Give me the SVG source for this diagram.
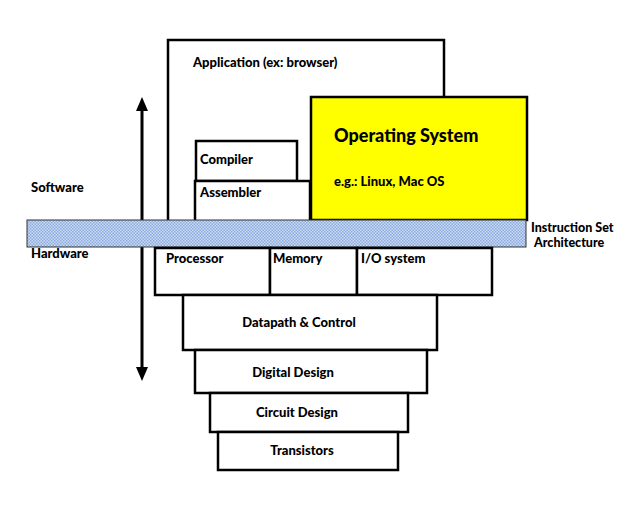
<svg xmlns="http://www.w3.org/2000/svg" width="638" height="507" viewBox="0 0 638 507">
<style>
.box{fill:#fff;stroke:#000;stroke-width:2.5}
.t{font-family:Lato,"Liberation Sans",sans-serif;font-weight:900;font-size:13px;fill:#000}
.c{text-anchor:middle}
.head{fill:#000}
</style>
<defs>
<pattern id="dots" width="3" height="3" patternUnits="userSpaceOnUse">
<rect width="3" height="3" fill="#c8daf4"/>
<rect width="1.5" height="1.5" fill="#8eaade"/>
<rect x="1.5" y="1.5" width="1.5" height="1.5" fill="#8eaade"/>
</pattern>
</defs>
<rect width="638" height="507" fill="#fff"/>
<g id="connectors">
<line x1="142" y1="108" x2="142" y2="369" stroke="#000" stroke-width="3"/>
<polygon class="head" points="142,97 136,111 148,111"/>
<polygon class="head" points="142,381 136,367 148,367"/>
</g>
<g id="application">
<rect class="box" x="168" y="40" width="276" height="185"/>
<text class="t" x="193" y="67">Application (ex: browser)</text>
</g>
<g id="compiler">
<rect class="box" x="196" y="141" width="101" height="40"/>
<text class="t" x="200" y="164">Compiler</text>
</g>
<g id="assembler">
<rect class="box" x="195" y="181" width="115" height="44"/>
<text class="t" x="200" y="197">Assembler</text>
</g>
<g id="os">
<rect x="311" y="97" width="216" height="123" fill="#ffff00" stroke="#000" stroke-width="2.5"/>
<text class="t" x="334" y="142" style="font-size:18px">Operating System</text>
<text class="t" x="334" y="186">e.g.: Linux, Mac OS</text>
</g>
<g id="software-label">
<text class="t" x="31" y="192">Software</text>
</g>
<g id="isa">
<rect x="27" y="220" width="499" height="27" fill="url(#dots)" stroke="#333" stroke-width="1"/>
<text class="t" x="531" y="232" style="font-size:12.5px">Instruction Set</text>
<text class="t" x="534" y="247" style="font-size:12.5px">Architecture</text>
</g>
<g id="hardware-label">
<text class="t" x="31" y="258">Hardware</text>
</g>
<g id="processor">
<rect class="box" x="155" y="248" width="115" height="47"/>
<text class="t" x="166" y="263">Processor</text>
</g>
<g id="memory">
<rect class="box" x="270" y="248" width="87" height="47"/>
<text class="t" x="273" y="263">Memory</text>
</g>
<g id="io">
<rect class="box" x="357" y="248" width="135" height="47"/>
<text class="t" x="361" y="263">I/O system</text>
</g>
<g id="datapath">
<rect class="box" x="183" y="295" width="254" height="55"/>
<text class="t c" x="299" y="327">Datapath &amp; Control</text>
</g>
<g id="digital">
<rect class="box" x="195" y="350" width="232" height="43"/>
<text class="t c" x="293" y="377">Digital Design</text>
</g>
<g id="circuit">
<rect class="box" x="210" y="393" width="198" height="39"/>
<text class="t c" x="297" y="417">Circuit Design</text>
</g>
<g id="transistors">
<rect class="box" x="218" y="432" width="180" height="38"/>
<text class="t c" x="302" y="455">Transistors</text>
</g>
</svg>
